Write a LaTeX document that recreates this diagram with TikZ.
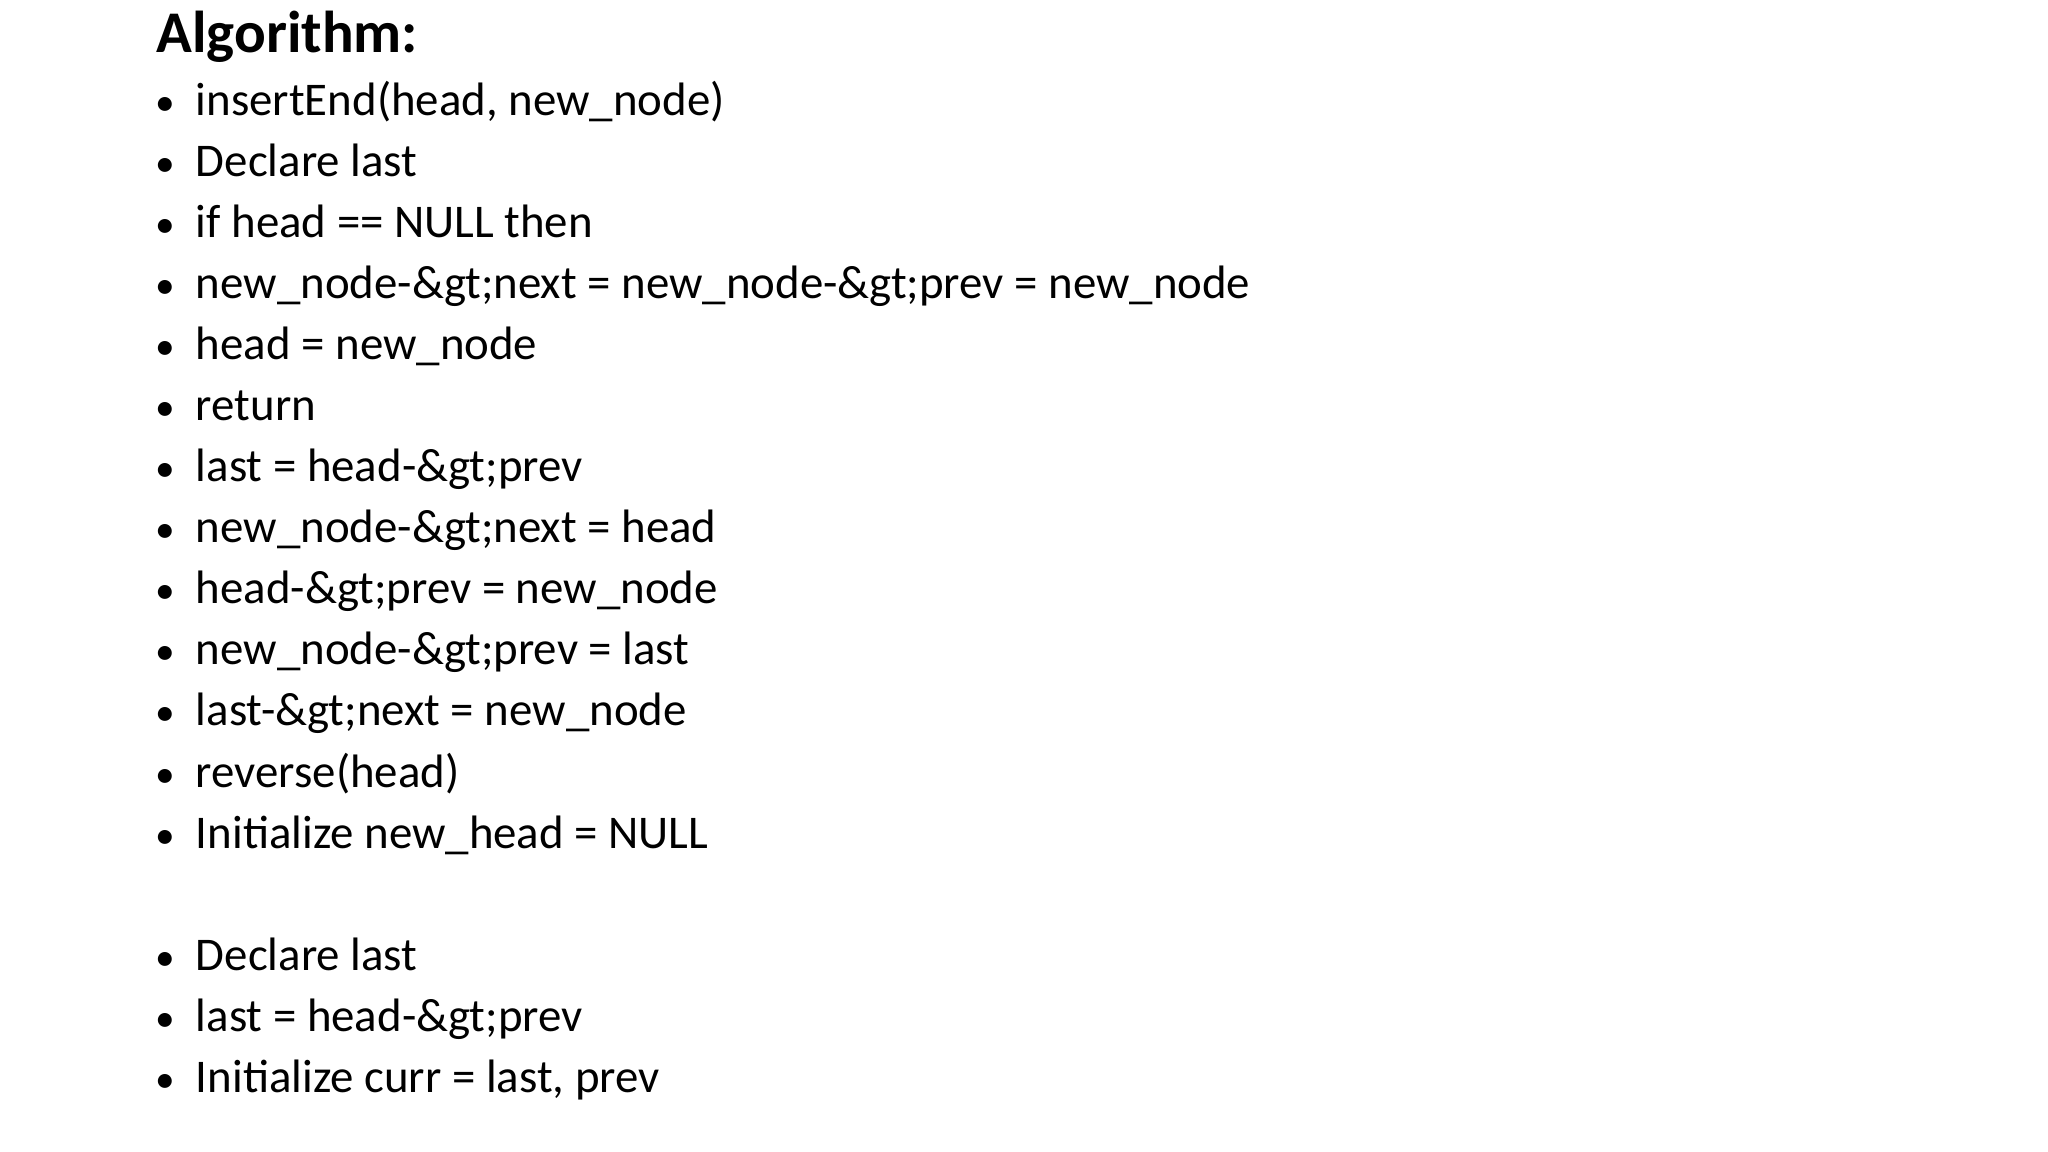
\documentclass[tikz,border=0pt]{standalone}
\usepackage{fontspec}
\setmainfont{Carlito}
\begin{document}
\begin{tikzpicture}[x=1pt,y=-1pt,
  item/.style={anchor=base west,inner sep=0pt,font=\fontsize{35.7}{42}\selectfont},
  bul/.style={anchor=base,inner sep=0pt,font=\fontsize{30}{36}\selectfont},
  ttl/.style={anchor=base west,inner sep=0pt,font=\bfseries\fontsize{45}{52}\selectfont}]
\useasboundingbox (0,0) rectangle (1560,877.5);
\node[ttl] (t) at (119,40) {Algorithm:};
\foreach \i/\y/\s in {1/88/{insertEnd(head, new\_node)},
 2/134.5/{Declare last},
 3/181/{if head == NULL then},
 4/227.5/{new\_node-\&gt;next = new\_node-\&gt;prev = new\_node},
 5/274/{head = new\_node},
 6/320.5/{return},
 7/367/{last = head-\&gt;prev},
 8/413.5/{new\_node-\&gt;next = head},
 9/460/{head-\&gt;prev = new\_node},
 10/506.5/{new\_node-\&gt;prev = last},
 11/553/{last-\&gt;next = new\_node},
 12/599.5/{reverse(head)},
 13/646/{Initialize new\_head = NULL},
 14/739/{Declare last},
 15/785.5/{last = head-\&gt;prev},
 16/832/{Initialize curr = last, prev}}{
  \node[bul] (b\i) at (126,\y) {•};
  \node[item] (l\i) at (149,\y) {\s};
}
\end{tikzpicture}
\end{document}
